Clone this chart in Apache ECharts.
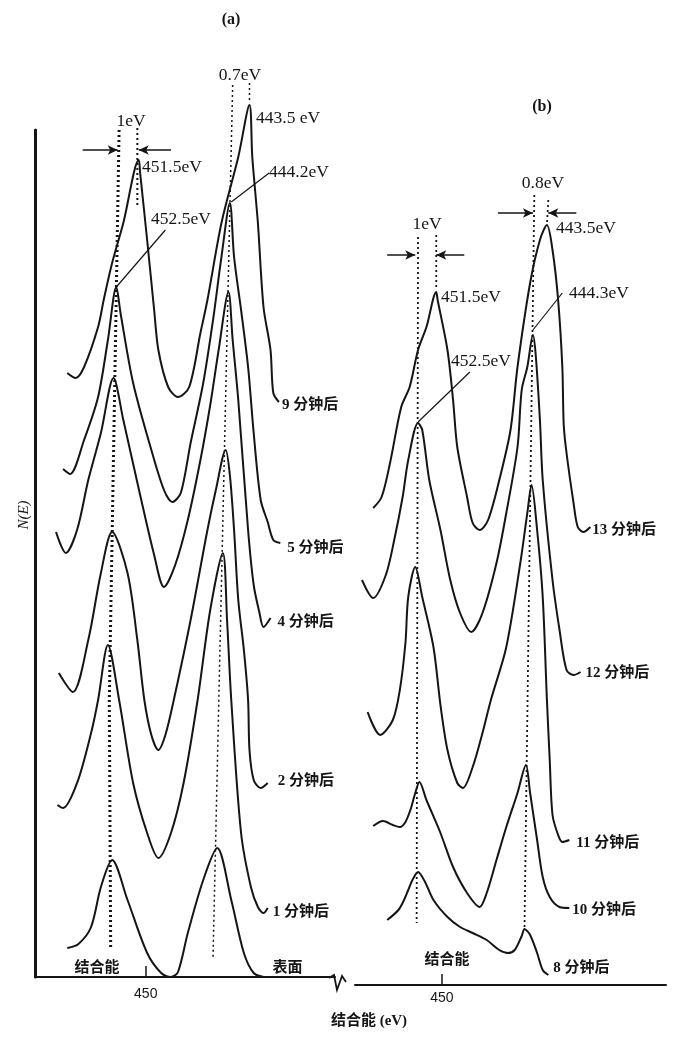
<!DOCTYPE html>
<html>
<head>
<meta charset="utf-8">
<script src="https://cdn.jsdelivr.net/npm/echarts@6/dist/echarts.min.js"></script>
<style>
  html, body { margin: 0; background: #fff; }
  #chart { width: 676px; height: 1037px; }
</style>
</head>
<body>
<div id="chart"></div>
<script>
// 曲线数据：[结合能 eV, N(E) 任意单位]
// (a) 面板
const curve9A = [[455.6,604],[455.0,599],[454.4,610],[453.4,650],[453.0,677],[452.4,714],[451.6,754],[450.5,817],[450.4,804],[449.9,737],[449.4,667],[449.1,627],[448.4,590],[447.7,580],[446.9,590],[446.1,644],[445.6,677],[444.6,754],[443.4,820],[442.6,872],[442.4,820],[442.0,754],[441.6,670],[441.1,627],[440.9,584],[440.5,575]];
const curve5A = [[455.9,508],[455.4,503],[454.4,537],[453.4,580],[452.7,637],[452.1,690],[451.8,664],[450.9,594],[449.6,527],[448.7,487],[448.1,475],[447.5,484],[446.8,534],[445.9,594],[445.2,657],[444.6,720],[444.0,774],[443.7,720],[443.2,667],[442.7,610],[442.3,544],[441.8,477],[441.3,455],[440.9,437],[440.4,434]];
const curve4A = [[456.4,445],[455.7,424],[454.9,447],[454.1,497],[453.2,544],[452.3,599],[451.6,557],[450.4,482],[449.4,422],[448.7,390],[447.9,412],[447.0,457],[446.1,517],[445.4,572],[444.8,627],[444.1,685],[443.8,637],[443.4,577],[442.7,447],[442.3,392],[441.9,365],[441.6,350],[441.1,359]];
const curve2A = [[456.2,304],[455.2,285],[454.1,337],[453.2,404],[452.4,445],[451.3,404],[450.6,337],[450.1,277],[449.6,242],[449.1,227],[448.6,242],[448.0,277],[446.8,357],[445.6,447],[445.0,487],[444.3,527],[444.0,502],[443.7,447],[443.4,377],[443.0,327],[442.7,277],[442.6,227],[442.3,197],[441.8,189],[441.3,194]];
const curve1A = [[456.3,172],[455.9,169],[454.9,194],[453.9,244],[453.4,277],[452.7,332],[451.9,277],[450.9,194],[449.9,144],[449.1,119],[448.2,144],[447.3,194],[446.3,277],[445.4,367],[444.5,424],[444.2,357],[443.9,277],[443.2,144],[442.5,90],[442.0,70],[441.6,64],[441.3,69]];
const surfaceA = [[455.6,29],[454.8,33],[453.9,50],[453.2,90],[452.4,117],[451.3,77],[449.9,24],[448.9,4],[448.2,0],[447.7,5],[447.0,44],[445.9,97],[444.9,129],[443.9,77],[443.0,24],[442.3,4],[441.6,0]];

// (b) 面板
const curve13B = [[454.9,477],[454.3,488],[453.7,522],[452.9,578],[452.3,598],[451.7,635],[451.1,658],[450.4,693],[450.3,685],[449.6,635],[449.2,585],[448.9,538],[448.2,488],[447.8,462],[447.3,455],[446.7,465],[445.9,505],[445.1,555],[444.6,618],[443.7,702],[443.0,745],[442.5,760],[442.1,735],[441.7,685],[441.4,618],[441.3,560],[441.1,532],[440.6,482],[440.3,458],[439.9,453],[439.4,458]];
const curve12B = [[455.7,405],[454.9,387],[454.0,410],[453.4,445],[452.8,488],[452.4,525],[451.7,562],[451.4,555],[450.9,505],[450.1,455],[449.4,405],[448.7,372],[447.9,353],[447.1,372],[446.1,422],[445.4,472],[444.6,538],[444.3,595],[443.9,618],[443.5,650],[443.3,630],[443.0,565],[442.8,505],[442.1,405],[441.6,355],[441.1,315],[440.6,310],[440.1,313]];
const curve11B = [[455.3,273],[454.4,250],[453.5,265],[453.0,295],[452.6,342],[452.4,388],[451.9,418],[451.4,388],[450.6,338],[450.1,280],[449.6,235],[448.9,202],[448.5,197],[447.8,218],[447.1,252],[446.5,285],[445.4,338],[444.4,422],[443.9,472],[443.6,500],[443.2,455],[442.8,388],[442.5,285],[442.3,225],[442.1,170],[441.7,150],[441.4,143],[440.9,145]];
const curve10B = [[454.9,159],[454.2,164],[453.5,160],[453.0,158],[452.6,163],[452.2,177],[451.9,192],[451.6,203],[451.1,185],[450.1,152],[449.2,118],[448.2,92],[447.3,78],[446.8,92],[446.1,125],[445.4,158],[444.6,192],[444.0,220],[443.7,192],[443.2,145],[442.8,108],[442.3,88],[441.6,78],[440.9,77]];
const curve8B = [[453.9,65],[453.1,75],[452.7,85],[452.4,95],[452.1,105],[451.7,113],[451.2,103],[450.6,85],[449.6,68],[448.7,58],[447.8,52],[446.8,45],[445.9,35],[445.3,32],[444.8,35],[444.3,49],[444.1,56],[443.7,50],[443.2,32],[442.8,15],[442.4,10]];

// 虚线 (峰位参考线)
const dotA1 = [[451.9,847],[452.6,277],[452.5,27]];
const dotA2 = [[450.6,849],[450.6,772]];
const dotA3 = [[443.8,892],[445.2,20]];
const dotA4 = [[442.6,894],[442.6,874]];
const dotB1 = [[451.7,748],[451.8,62]];
const dotB2 = [[450.4,750],[450.4,695]];
const dotB3 = [[443.4,790],[444.1,58]];
const dotB4 = [[442.4,785],[442.5,760]];

// 箭头 [起点 eV, 终点 eV, N]，引线
const arrowsA = [[454.5,452.0,827],[448.2,450.5,827],[446.4,443.9,872],[440.2,442.5,872]];
const arrowsB = [[453.9,451.9,730],[448.4,450.4,730],[446.0,443.5,772],[440.4,442.4,772]];
const leadersA = [[[448.6,747],[452.1,690]],[[441.2,804],[443.9,775]]];
const leadersB = [[[448.0,613],[451.7,563]],[[441.4,692],[443.5,655]]];

const tickValues = [450];

const INK = "#151515";
const SERIF = "'Liberation Serif', 'Noto Sans CJK SC', serif";

function curve(name, data, panel, offset) {
  return {
    name: name,
    type: "line",
    xAxisIndex: panel,
    yAxisIndex: panel,
    data: data,
    smooth: 0.3,
    symbol: "none",
    clip: false,
    silent: true,
    lineStyle: { color: INK, width: 2 },
    endLabel: {
      show: true,
      formatter: name,
      color: INK,
      fontSize: 15,
      fontWeight: "bold",
      fontFamily: SERIF,
      align: "left",
      verticalAlign: "middle",
      distance: 0,
      offset: offset
    }
  };
}

function dotted(data, panel, width) {
  return {
    type: "line",
    xAxisIndex: panel,
    yAxisIndex: panel,
    data: data,
    symbol: "none",
    clip: false,
    silent: true,
    lineStyle: { color: INK, width: width, type: [2, 3] }
  };
}

function arrows(list, panel) {
  return {
    type: "line",
    xAxisIndex: panel,
    yAxisIndex: panel,
    data: [],
    symbol: "none",
    clip: false,
    silent: true,
    markLine: {
      silent: true,
      animation: false,
      symbol: ["none", "arrow"],
      symbolSize: [7, 10],
      label: { show: false },
      lineStyle: { color: INK, width: 1.5, type: "solid" },
      data: list.map(a => [{ coord: [a[0], a[2]] }, { coord: [a[1], a[2]] }])
    }
  };
}

function leader(pts, panel) {
  return {
    type: "line",
    xAxisIndex: panel,
    yAxisIndex: panel,
    data: pts,
    symbol: "none",
    clip: false,
    silent: true,
    lineStyle: { color: INK, width: 1.2 }
  };
}

function txt(x, y, s, opts) {
  return {
    type: "text",
    x: x,
    y: y,
    silent: true,
    rotation: (opts && opts.rotation) || 0,
    style: Object.assign({
      text: s,
      fill: INK,
      fontSize: 17.5,
      fontFamily: SERIF,
      align: "left",
      verticalAlign: "middle"
    }, opts && opts.style)
  };
}

const xBase = {
  type: "value",
  inverse: true,
  splitLine: { show: false },
  axisLine: { onZero: false, lineStyle: { color: INK, width: 2 } },
  axisTick: { inside: true, length: 11, customValues: tickValues, lineStyle: { color: INK, width: 1.5 } },
  axisLabel: { customValues: tickValues, color: INK, fontSize: 14, fontFamily: "'Liberation Sans', sans-serif" }
};

const option = {
  animation: false,
  backgroundColor: "#fff",
  grid: [
    { left: 35, top: 130, width: 300, height: 847 },
    { left: 355, top: 130, width: 311, height: 855 }
  ],
  xAxis: [
    Object.assign({}, xBase, { gridIndex: 0, min: 436.5, max: 457.9, axisLabel: Object.assign({}, xBase.axisLabel, { margin: 10 }) }),
    Object.assign({}, xBase, { gridIndex: 1, min: 434, max: 456.2, axisLabel: Object.assign({}, xBase.axisLabel, { margin: 6 }) })
  ],
  yAxis: [
    {
      gridIndex: 0, type: "value", min: 0, max: 847,
      axisLine: { show: true, onZero: false, lineStyle: { color: INK, width: 3 } },
      axisTick: { show: false }, axisLabel: { show: false }, splitLine: { show: false }
    },
    { gridIndex: 1, type: "value", min: 0, max: 855, show: false }
  ],
  series: [
    curve("9 分钟后", curve9A, 0, [3, 3]),
    curve("5 分钟后", curve5A, 0, [7, 5]),
    curve("4 分钟后", curve4A, 0, [7, 4]),
    curve("2 分钟后", curve2A, 0, [10, -2]),
    curve("1 分钟后", curve1A, 0, [5, 4]),
    curve("表面", surfaceA, 0, [9, -9]),
    curve("13 分钟后", curve13B, 1, [2, 3]),
    curve("12 分钟后", curve12B, 1, [5, 1]),
    curve("11 分钟后", curve11B, 1, [7, 3]),
    curve("10 分钟后", curve10B, 1, [3, 2]),
    curve("8 分钟后", curve8B, 1, [5, -7]),
    dotted(dotA1, 0, 3),
    dotted(dotA2, 0, 2),
    dotted(dotA3, 0, 1.5),
    dotted(dotA4, 0, 1.5),
    dotted(dotB1, 1, 1.8),
    dotted(dotB2, 1, 1.8),
    dotted(dotB3, 1, 1.8),
    dotted(dotB4, 1, 1.8),
    arrows(arrowsA, 0),
    arrows(arrowsB, 1),
    leader(leadersA[0], 0),
    leader(leadersA[1], 0),
    leader(leadersB[0], 1),
    leader(leadersB[1], 1)
  ],
  graphic: [
    txt(231, 20, "(a)", { style: { align: "center", fontWeight: "bold", fontSize: 16 } }),
    txt(240, 75, "0.7eV", { style: { align: "center" } }),
    txt(131, 121, "1eV", { style: { align: "center" } }),
    txt(256, 118, "443.5 eV"),
    txt(142, 167, "451.5eV"),
    txt(151, 219, "452.5eV"),
    txt(269, 172, "444.2eV"),
    txt(97, 968, "结合能", { style: { align: "center", fontWeight: "bold", fontSize: 15 } }),
    txt(24, 515, "N(E)", { rotation: Math.PI / 2, style: { align: "center", fontStyle: "italic", fontSize: 15 } }),
    txt(542, 107, "(b)", { style: { align: "center", fontWeight: "bold", fontSize: 16 } }),
    txt(543, 183, "0.8eV", { style: { align: "center" } }),
    txt(427, 224, "1eV", { style: { align: "center" } }),
    txt(556, 228, "443.5eV"),
    txt(441, 297, "451.5eV"),
    txt(451, 361, "452.5eV"),
    txt(569, 293, "444.3eV"),
    txt(447, 960, "结合能", { style: { align: "center", fontWeight: "bold", fontSize: 15 } }),
    txt(369, 1021, "结合能 (eV)", { style: { align: "center", fontWeight: "bold", fontSize: 15 } }),
    {
      type: "polyline",
      silent: true,
      shape: { points: [[329, 978], [334, 975], [337, 990], [342, 976], [346, 982]] },
      style: { stroke: INK, lineWidth: 1.8, fill: null }
    }
  ]
};

const chart = echarts.init(document.getElementById("chart"));
chart.setOption(option);
</script>
</body>
</html>
